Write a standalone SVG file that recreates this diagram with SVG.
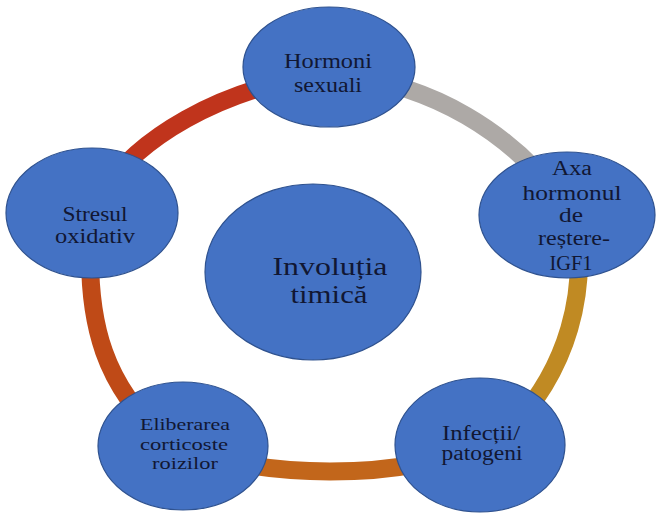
<svg xmlns="http://www.w3.org/2000/svg" width="659" height="513" viewBox="0 0 659 513">
<style>
.node{fill:#4472C4;stroke:#2F528F;stroke-width:1.2}
.t{font-family:"Liberation Serif","Times New Roman",serif;fill:#111733;text-anchor:middle}
.arc{fill:none;stroke-width:18;stroke-linecap:butt}
</style>
<rect width="659" height="513" fill="#ffffff"/>
<g id="connectors">
<path class="arc" stroke="#C0341C" d="M 100 195 C 140 135, 220 92, 310 76"/>
<path class="arc" stroke="#ADA9A6" d="M 345 76 C 430 85, 510 130, 565 205"/>
<path class="arc" stroke="#C08A23" d="M 575 215 C 588 290, 570 370, 505 435"/>
<path class="arc" stroke="#C2661B" d="M 480 440 C 430 482, 230 482, 180 440"/>
<path class="arc" stroke="#BF4A17" d="M 165 440 C 110 390, 82 330, 92 215"/>
</g>
<g id="center">
<ellipse class="node" cx="313" cy="272" rx="108" ry="88"/>
<text class="t" font-size="25"><tspan x="330" y="275" textLength="115" lengthAdjust="spacingAndGlyphs">Involuția</tspan><tspan x="329" y="303" textLength="77" lengthAdjust="spacingAndGlyphs">timică</tspan></text>
</g>
<g id="hormoni">
<ellipse class="node" cx="329" cy="67" rx="86" ry="60"/>
<text class="t" font-size="20"><tspan x="328" y="68" textLength="88" lengthAdjust="spacingAndGlyphs">Hormoni</tspan><tspan x="328" y="92" textLength="68" lengthAdjust="spacingAndGlyphs">sexuali</tspan></text>
</g>
<g id="axa">
<ellipse class="node" cx="567" cy="215" rx="88" ry="63"/>
<text class="t" font-size="20"><tspan x="572" y="175" textLength="40" lengthAdjust="spacingAndGlyphs">Axa</tspan><tspan x="572" y="200" textLength="99" lengthAdjust="spacingAndGlyphs">hormonul</tspan><tspan x="571" y="222" textLength="24" lengthAdjust="spacingAndGlyphs">de</tspan><tspan x="574" y="245" textLength="72" lengthAdjust="spacingAndGlyphs">reștere-</tspan><tspan x="571" y="270" textLength="43" lengthAdjust="spacingAndGlyphs">IGF1</tspan></text>
</g>
<g id="stresul">
<ellipse class="node" cx="92" cy="213" rx="86" ry="65"/>
<text class="t" font-size="20"><tspan x="95" y="221" textLength="65" lengthAdjust="spacingAndGlyphs">Stresul</tspan><tspan x="95" y="243" textLength="80" lengthAdjust="spacingAndGlyphs">oxidativ</tspan></text>
</g>
<g id="eliberarea">
<ellipse class="node" cx="183" cy="446" rx="85" ry="64"/>
<text class="t" font-size="17"><tspan x="185" y="430" textLength="90" lengthAdjust="spacingAndGlyphs">Eliberarea</tspan><tspan x="184" y="450" textLength="88" lengthAdjust="spacingAndGlyphs">corticoste</tspan><tspan x="185" y="469" textLength="66" lengthAdjust="spacingAndGlyphs">roizilor</tspan></text>
</g>
<g id="infectii">
<ellipse class="node" cx="480" cy="445" rx="85" ry="67"/>
<text class="t" font-size="20"><tspan x="481" y="440" textLength="78" lengthAdjust="spacingAndGlyphs">Infecții/</tspan><tspan x="482" y="460" textLength="81" lengthAdjust="spacingAndGlyphs">patogeni</tspan></text>
</g>
</svg>
